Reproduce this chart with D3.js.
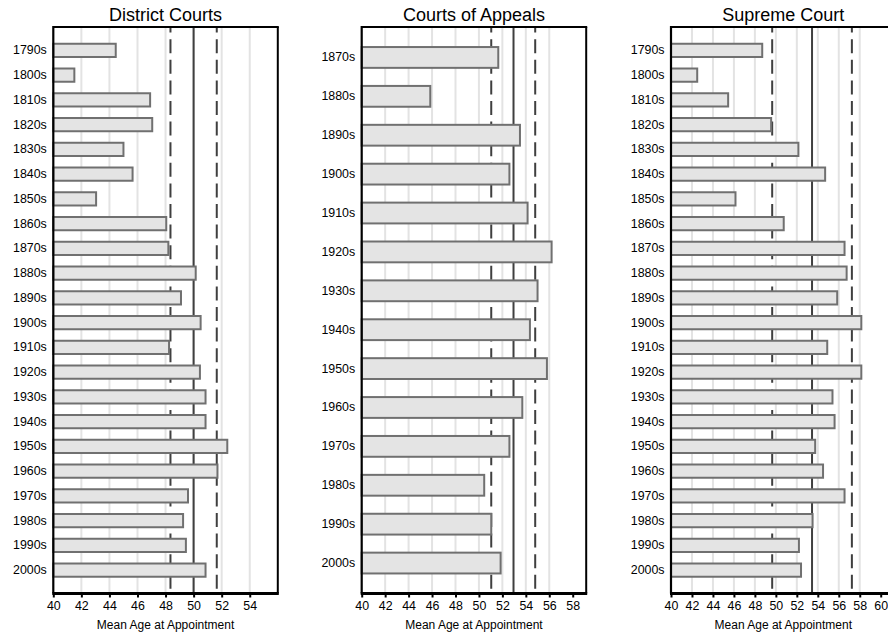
<!DOCTYPE html>
<html>
<head>
<meta charset="utf-8">
<script src="https://cdn.jsdelivr.net/npm/d3@7"></script>
<style>
  html, body { margin: 0; padding: 0; background: #fff; }
  svg { display: block; font-family: "Liberation Sans", Arial, Helvetica, sans-serif; }
</style>
</head>
<body>
<svg id="chart" width="888" height="636"></svg>
<script>
// ---------------- DATA ----------------
const districtDecades = ["1790s","1800s","1810s","1820s","1830s","1840s","1850s","1860s","1870s","1880s","1890s",
  "1900s","1910s","1920s","1930s","1940s","1950s","1960s","1970s","1980s","1990s","2000s"];
const districtAges = [44.45, 41.5, 46.9, 47.05, 45.0, 45.65, 43.05, 48.05, 48.2, 50.15, 49.1,
  50.5, 48.25, 50.45, 50.85, 50.85, 52.4, 51.7, 49.6, 49.25, 49.45, 50.85];
const districtRef = [48.35, 50.0, 51.65];   // lower dashed, mean (solid), upper dashed
const districtTicks = [40, 42, 44, 46, 48, 50, 52, 54];
const districtGrid = [42, 44, 46, 48, 50, 52, 54];

const appealsDecades = ["1870s","1880s","1890s","1900s","1910s","1920s","1930s","1940s","1950s","1960s",
  "1970s","1980s","1990s","2000s"];
const appealsAges = [51.65, 45.85, 53.5, 52.6, 54.15, 56.2, 55.0, 54.35, 55.8, 53.7, 52.6, 50.45, 51.05, 51.85];
const appealsRef = [51.05, 52.95, 54.8];
const appealsTicks = [40, 42, 44, 46, 48, 50, 52, 54, 56, 58];
const appealsGrid = [42, 44, 46, 48, 50, 52, 54, 56];

const supremeDecades = ["1790s","1800s","1810s","1820s","1830s","1840s","1850s","1860s","1870s","1880s","1890s",
  "1900s","1910s","1920s","1930s","1940s","1950s","1960s","1970s","1980s","1990s","2000s"];
const supremeAges = [48.7, 42.5, 45.45, 49.55, 52.15, 54.7, 46.15, 50.75, 56.55, 56.75, 55.85,
  58.15, 54.9, 58.15, 55.4, 55.6, 53.75, 54.5, 56.55, 53.5, 52.2, 52.4];
const supremeRef = [49.65, 53.45, 57.25];
const supremeTicks = [40, 42, 44, 46, 48, 50, 52, 54, 56, 58, 60];
const supremeGrid = [42, 44, 46, 48, 50, 52, 54, 56, 58];

const panelTitles = ["District Courts", "Courts of Appeals", "Supreme Court"];
const xTitle = "Mean Age at Appointment";

// ---------------- LAYOUT ----------------
const svg = d3.select("#chart");
const plotTop = 27, plotBottom = 593.5, plotW = 224.5, bandPad = 11;
const panels = [
  { title: panelTitles[0], cats: districtDecades, vals: districtAges, ref: districtRef, ticks: districtTicks, grid: districtGrid, left: 53.3, xmax: 56.0 },
  { title: panelTitles[1], cats: appealsDecades, vals: appealsAges, ref: appealsRef, ticks: appealsTicks, grid: appealsGrid, left: 361.7, xmax: 59.15 },
  { title: panelTitles[2], cats: supremeDecades, vals: supremeAges, ref: supremeRef, ticks: supremeTicks, grid: supremeGrid, left: 671, xmax: 61.41 }
];

panels.forEach(p => {
  const g = svg.append("g");
  const x = d3.scaleLinear().domain([40, p.xmax]).range([p.left, p.left + plotW]);
  const y = d3.scaleBand().domain(p.cats).range([plotTop + bandPad, plotBottom - bandPad]).padding(0);
  const barH = y.bandwidth() * 0.535;

  // gridlines
  g.append("g").selectAll("line").data(p.grid).join("line")
    .attr("x1", d => x(d)).attr("x2", d => x(d))
    .attr("y1", plotTop).attr("y2", plotBottom)
    .attr("stroke", "#e3e3e3").attr("stroke-width", 2);

  // reference lines
  g.append("g").selectAll("line").data(p.ref).join("line")
    .attr("x1", d => x(d)).attr("x2", d => x(d))
    .attr("y1", plotTop).attr("y2", plotBottom)
    .attr("stroke", "#3f3f3f").attr("stroke-width", 2)
    .attr("stroke-dasharray", (d, i) => i === 1 ? null : "14,6.6")
    .attr("stroke-dashoffset", 8.4);

  // bars
  g.append("g").selectAll("rect").data(p.vals).join("rect")
    .attr("x", x(40))
    .attr("y", (d, i) => y(p.cats[i]) + (y.bandwidth() - barH) / 2)
    .attr("width", d => x(d) - x(40))
    .attr("height", barH)
    .attr("fill", "#e4e4e4")
    .attr("stroke", "#707070")
    .attr("stroke-width", 2);

  // frame: top and right
  g.append("line").attr("x1", x.range()[0]).attr("x2", x.range()[1] + 1)
    .attr("y1", plotTop).attr("y2", plotTop).attr("stroke", "#000").attr("stroke-width", 2);
  g.append("line").attr("x1", x.range()[1]).attr("x2", x.range()[1])
    .attr("y1", plotTop).attr("y2", plotBottom).attr("stroke", "#000").attr("stroke-width", 2);

  // left axis
  const ya = g.append("g").attr("transform", `translate(${x.range()[0]},0)`)
    .call(d3.axisLeft(y).tickSize(0).tickSizeOuter(0).tickPadding(6.5));
  ya.select(".domain").attr("stroke", "#000").attr("stroke-width", 2.2)
    .attr("d", `M0,${plotTop - 1}V${plotBottom}`);
  ya.selectAll("text").attr("font-size", 12.4).attr("fill", "#000")
    .attr("font-family", "'Liberation Sans', Arial, sans-serif");

  // bottom axis
  const xa = g.append("g").attr("transform", `translate(0,${plotBottom})`)
    .call(d3.axisBottom(x).tickValues(p.ticks).tickFormat(d3.format("d")).tickSize(4).tickSizeOuter(0).tickPadding(4));
  xa.select(".domain").attr("stroke", "#000").attr("stroke-width", 3)
    .attr("d", `M${x.range()[0] - 1},0H${x.range()[1] + 1}`);
  xa.selectAll(".tick line").attr("stroke", "#000").attr("stroke-width", 2);
  xa.selectAll("text").attr("font-size", 12.4).attr("fill", "#000")
    .attr("font-family", "'Liberation Sans', Arial, sans-serif");

  // title
  g.append("text").attr("x", (x.range()[0] + x.range()[1]) / 2).attr("y", 20.5)
    .attr("text-anchor", "middle").attr("font-size", 18).attr("fill", "#000")
    .text(p.title);

  // x axis title
  g.append("text").attr("x", (x.range()[0] + x.range()[1]) / 2).attr("y", 628.5)
    .attr("text-anchor", "middle").attr("font-size", 12).attr("fill", "#000")
    .text(xTitle);
});
</script>
</body>
</html>
